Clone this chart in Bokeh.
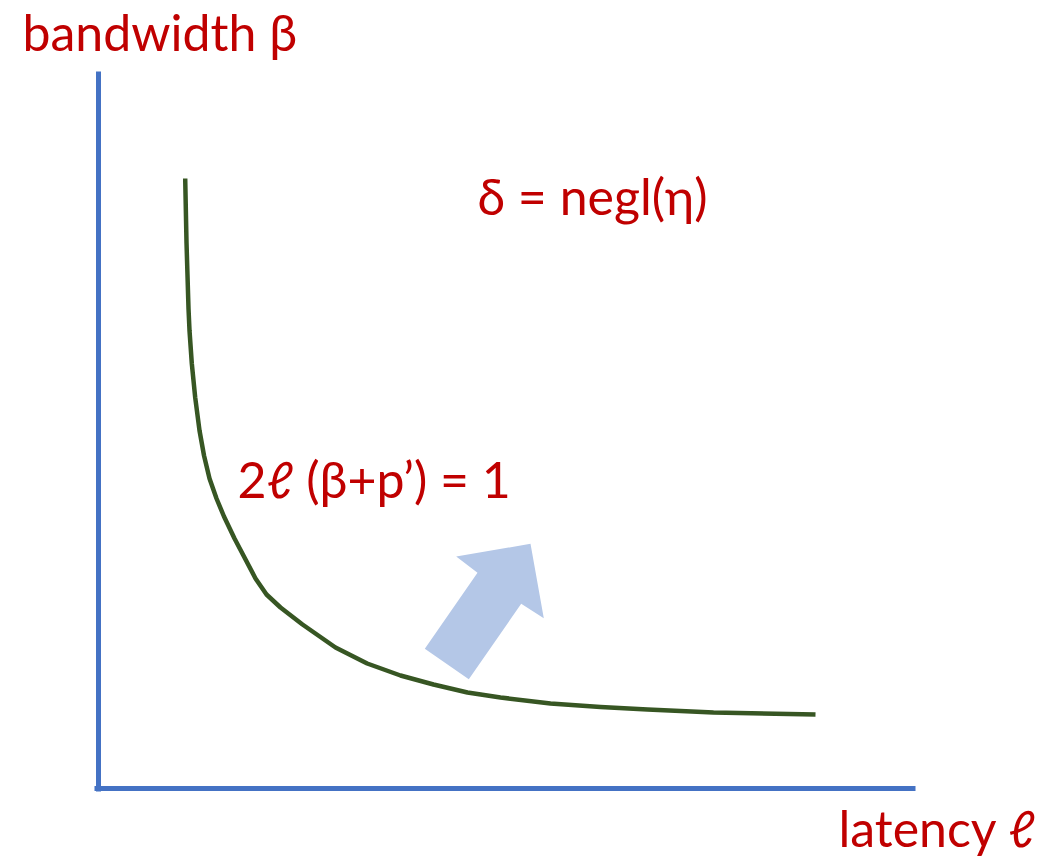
from bokeh.plotting import figure
from bokeh.models import Range1d
from bokeh.core.properties import value
from bokeh.embed import file_html
from bokeh.resources import INLINE

# Trade-off curve 2l(beta+p') = 1 (latency, bandwidth)
latency = [0.877, 0.89, 0.90, 0.91, 0.92, 0.943, 0.977, 1.02, 1.065, 1.12, 1.19,
           1.265, 1.37, 1.58, 1.69, 1.83, 2.05, 2.38, 2.697, 3.03, 3.36, 3.70,
           4.03, 4.53, 5.03, 5.50, 6.16, 7.18]
bandwidth = [6.10, 5.46, 5.13, 4.80, 4.58, 4.25, 3.91, 3.58, 3.33, 3.10, 2.90,
             2.72, 2.50, 2.10, 1.94, 1.81, 1.64, 1.41, 1.25, 1.13, 1.04, 0.96,
             0.91, 0.85, 0.815, 0.79, 0.76, 0.74]

# Direction arrow (polygon vertices)
arrow_x = [3.273, 3.713, 4.237, 4.463, 4.33, 3.587, 3.80]
arrow_y = [1.397, 1.093, 1.847, 1.703, 2.447, 2.32, 2.157]

# Axis lines
axis_x0 = [0.01, -0.03]
axis_y0 = [-0.03, 0.0]
axis_x1 = [0.01, 8.18]
axis_y1 = [7.17, 0.0]

# Labels
label_text = ["bandwidth β", "δ = negl(η)", "2ℓ (β+p’) = 1", "latency ℓ"]
label_x = [-0.75, 3.80, 1.40, 7.41]
label_y = [7.57, 5.93, 3.10, -0.39]

RED = "#C00000"

p = figure(width=1045, height=863, output_backend="svg", toolbar_location=None,
           x_axis_type=None, y_axis_type=None, min_border=0,
           x_range=Range1d(-0.97, 9.48), y_range=Range1d(-0.75, 7.88))
p.outline_line_color = None
p.grid.visible = False
p.background_fill_color = "white"

p.segment(x0=axis_x0, y0=axis_y0, x1=axis_x1, y1=axis_y1,
          line_color="#4472C4", line_width=5)

p.patch(arrow_x, arrow_y, fill_color="#B4C7E7", line_color=None)

p.line(latency, bandwidth, line_color="#375623", line_width=4.5,
       line_join="round")

p.text(x=label_x, y=label_y, text=label_text, text_color=RED,
       text_font=value("Lato"), text_font_size="50px",
       text_align="left", text_baseline="alphabetic")

open("out.html", "w").write(file_html(p, INLINE))
